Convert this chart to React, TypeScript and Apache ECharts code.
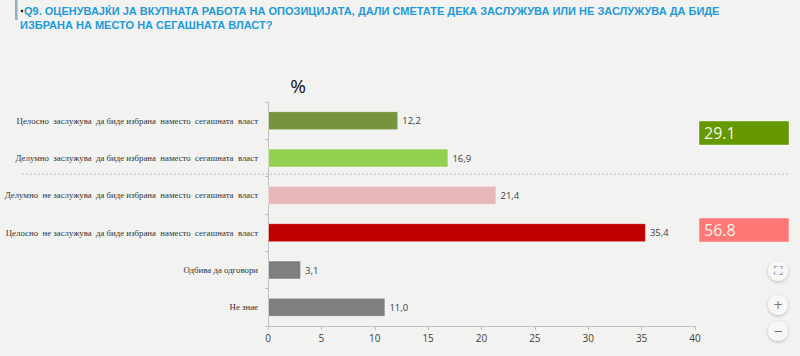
import React, { useEffect, useRef } from "react";
import * as echarts from "echarts";

const categories = [
  "Целосно  заслужува  да биде избрана  наместо  сегашната  власт",
  "Делумно  заслужува  да биде избрана  наместо  сегашната  власт",
  "Делумно  не заслужува  да биде избрана  наместо  сегашната  власт",
  "Целосно  не заслужува  да биде избрана  наместо  сегашната  власт",
  "Одбива да одговори",
  "Не знае",
];
const values = [12.2, 16.9, 21.4, 35.4, 3.1, 11.0];
const barColors = ["#77933c", "#92d050", "#e6b9b8", "#c00000", "#7f7f7f", "#7f7f7f"];
const summaryValues = [29.1, 56.8];
const summaryColors = ["#669900", "#ff7777"];
const xTicks = { min: 0, max: 40, interval: 5 };
const titleLine1 = "Q9. ОЦЕНУВАЈЌИ ЈА ВКУПНАТА РАБОТА НА ОПОЗИЦИЈАТА, ДАЛИ СМЕТАТЕ ДЕКА ЗАСЛУЖУВА ИЛИ НЕ ЗАСЛУЖУВА ДА БИДЕ";
const titleLine2 = "ИЗБРАНА НА МЕСТО НА СЕГАШНАТА ВЛАСТ?";

export default function App() {
  const ref = useRef<HTMLDivElement>(null);
  useEffect(() => {
    if (!ref.current) return;
    const chart = echarts.init(ref.current, null, { renderer: "svg" });
    const titleFont = {
      fontFamily: "Liberation Sans, Arial, sans-serif",
      fontWeight: "bold" as const,
      fontSize: 11,
      fill: "#1f9ad6",
    };
    const btn = (cy: number, t: string) => ({
      type: "group",
      children: [
        {
          type: "circle",
          shape: { cx: 778, cy, r: 10 },
          style: { fill: "#f7f7f7", shadowBlur: 3, shadowOffsetY: 1, shadowColor: "rgba(0,0,0,0.25)" },
        },
        {
          type: "text",
          x: 778,
          y: cy,
          style: { text: t, fontSize: 12, fill: "#777", align: "center", verticalAlign: "middle", fontFamily: "DejaVu Sans" },
        },
      ],
    });
    chart.setOption({
      animation: false,
      backgroundColor: "#f2f2f0",
      grid: { left: 268, right: 105, top: 102, bottom: 30, containLabel: false, outerBoundsMode: "none" },
      xAxis: {
        type: "value",
        min: xTicks.min,
        max: xTicks.max,
        interval: xTicks.interval,
        axisLine: { show: true, lineStyle: { color: "#bfbfbf" } },
        axisTick: { show: true, length: 4, lineStyle: { color: "#bfbfbf" } },
        splitLine: { show: false },
        axisLabel: { color: "#404040", fontSize: 10, fontFamily: "Open Sans, sans-serif", margin: 7 },
      },
      yAxis: {
        type: "category",
        inverse: true,
        data: categories,
        axisLine: { show: true, lineStyle: { color: "#bfbfbf" } },
        axisTick: { show: true, length: 3, lineStyle: { color: "#bfbfbf" } },
        axisLabel: {
          color: "#333",
          fontSize: 8.8,
          fontFamily: "Liberation Serif, serif",
          margin: 10,
        },
      },
      series: [
        {
          type: "bar",
          barWidth: 19,
          data: values.map((v, i) => ({
            value: v,
            itemStyle: { color: barColors[i], borderColor: "rgba(255,255,255,0.45)", borderWidth: 1 },
          })),
          label: {
            show: true,
            position: "right",
            distance: 4,
            color: "#404040",
            fontSize: 9.5,
            fontFamily: "Open Sans, sans-serif",
            formatter: (p: any) => p.value.toFixed(1).replace(".", ","),
          },
        },
      ],
      graphic: [
        { type: "rect", shape: { x: 15, y: 0, width: 2.5, height: 20 }, style: { fill: "#8fb0bd" } },
        { type: "circle", shape: { cx: 22, cy: 11, r: 1.3 }, style: { fill: "#222" } },
        { type: "text", x: 24, y: 5, style: { ...titleFont, text: titleLine1 } },
        { type: "text", x: 20, y: 19, style: { ...titleFont, text: titleLine2 } },
        {
          type: "text",
          x: 298,
          y: 86,
          style: { text: "%", fontSize: 19, fill: "#111", align: "center", verticalAlign: "middle", fontFamily: "Open Sans, sans-serif" },
        },
        {
          type: "line",
          shape: { x1: 22, y1: 174, x2: 788, y2: 174 },
          style: { stroke: "#bdbdbd", lineWidth: 1, lineDash: [2, 2] },
        },
        ...summaryValues.map((v, i) => ({
          type: "group",
          children: [
            {
              type: "rect",
              shape: { x: 699, y: i === 0 ? 121 : 218, width: 90, height: 24 },
              style: { fill: summaryColors[i], stroke: "rgba(255,255,255,0.4)", lineWidth: 1 },
            },
            {
              type: "text",
              x: 704,
              y: (i === 0 ? 121 : 218) + 12,
              style: {
                text: v.toFixed(1),
                fontSize: 16,
                fill: "#f4f4e8",
                verticalAlign: "middle",
                fontFamily: "Open Sans, sans-serif",
              },
            },
          ],
        })),
        btn(271, "⛶"),
        btn(305, "+"),
        btn(331, "−"),
      ],
    });
    return () => chart.dispose();
  }, []);
  return (
    <div
      ref={ref}
      style={{ position: "absolute", left: 0, top: 0, width: 800, height: 356 }}
    />
  );
}
